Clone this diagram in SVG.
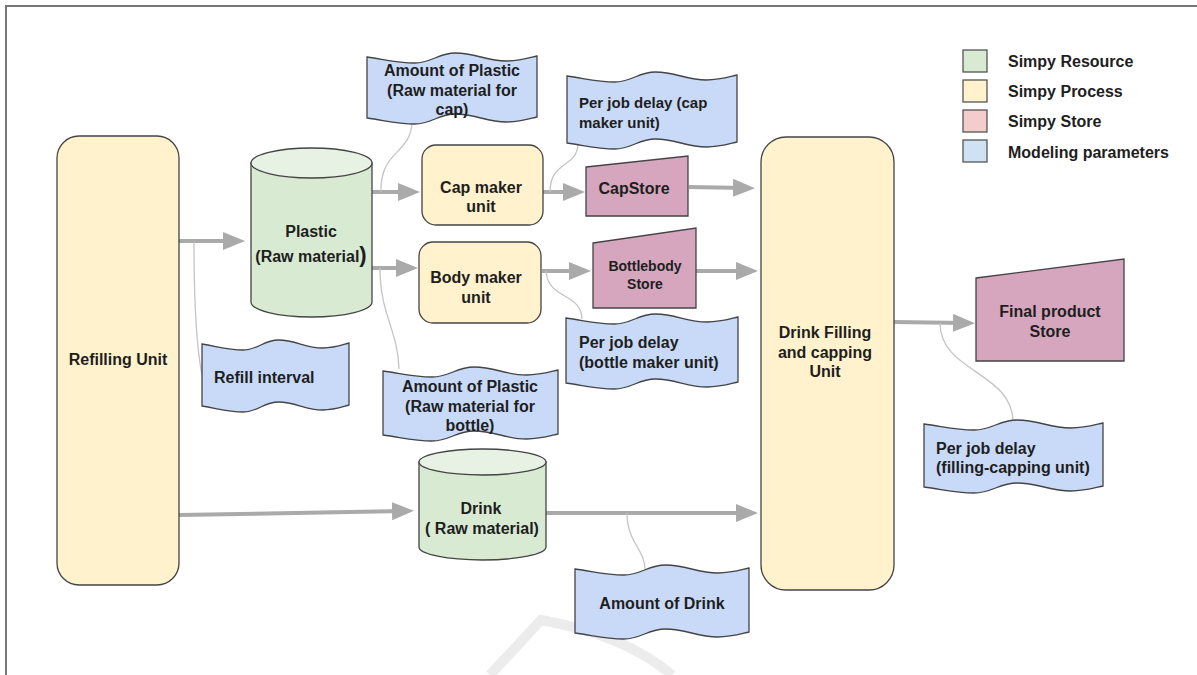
<svg xmlns="http://www.w3.org/2000/svg" width="1197" height="675" viewBox="0 0 1197 675">
<style>
text{font-family:"Liberation Sans",Arial,sans-serif;font-weight:bold;font-size:16px;fill:#1e1e1e}
.c{text-anchor:middle}
.proc{fill:#fff2cc;stroke:#444;stroke-width:1.3}
.res{fill:#d9ead3;stroke:#444;stroke-width:1.3}
.restop{fill:#e8f2e4;stroke:#444;stroke-width:1.3}
.store{fill:#d5a6bd;stroke:#444;stroke-width:1.3}
.param{fill:#c9daf8;stroke:#444;stroke-width:1.3}
.arr{stroke:#aaaaaa;stroke-width:4;fill:none;marker-end:url(#ah)}
.thin{stroke:#c4c4c4;stroke-width:1.3;fill:none}
.sm{font-size:14px}
</style>
<defs>
<marker id="ah" markerUnits="userSpaceOnUse" markerWidth="24" markerHeight="20" refX="12" refY="9" orient="auto">
<path d="M0,0 L22,9 L0,18 Z" fill="#aaaaaa"/>
</marker>
</defs>
<rect width="1197" height="675" fill="#fff"/>
<path d="M490,675 L541,620 Q625,635 672,675" fill="none" stroke="#ececec" stroke-width="10"/>
<path d="M6,675 V6 H1197" fill="none" stroke="#777" stroke-width="2"/>

<g id="connectors">
<path class="arr" d="M179,241 L235,241"/>
<path class="arr" d="M179,515 L404,511"/>
<path class="arr" d="M372,192 L410,192"/>
<path class="arr" d="M372,268 L408,268"/>
<path class="arr" d="M543,192 L575,192"/>
<path class="arr" d="M542,271 L581,271"/>
<path class="arr" d="M689,187 L745,188"/>
<path class="arr" d="M696,271 L748,271"/>
<path class="arr" d="M546,513 L748,513"/>
<path class="arr" d="M894,322 L965,323"/>
<path class="thin" d="M194,242 C194,300 196,345 202,375"/>
<path class="thin" d="M412,123 C410,155 380,150 381,192"/>
<path class="thin" d="M380,268 C380,315 398,330 399,369"/>
<path class="thin" d="M550,192 C550,160 578,168 578,143"/>
<path class="thin" d="M546,271 C548,300 581,292 582,319"/>
<path class="thin" d="M627,513 C627,542 645,550 645,569"/>
<path class="thin" d="M940,323 C940,372 1012,372 1013,421"/>
</g>

<g id="refilling-unit">
<rect class="proc" x="57" y="136" width="122" height="449" rx="22"/>
<text class="c" x="118" y="365">Refilling Unit</text>
</g>

<g id="plastic">
<path class="res" d="M251,163 V302 A60.5,15 0 0 0 372,302 V163 Z"/>
<ellipse class="restop" cx="311.5" cy="163" rx="60.5" ry="15"/>
<text class="c" x="311" y="237">Plastic</text>
<text class="c" x="311" y="262">(Raw material<tspan font-size="22">)</tspan></text>
</g>

<g id="cap-maker">
<rect class="proc" x="422" y="145" width="121" height="80" rx="14"/>
<text class="c" x="481" y="193">Cap maker</text>
<text class="c" x="481" y="212">unit</text>
</g>

<g id="body-maker">
<rect class="proc" x="419" y="242" width="122" height="81" rx="14"/>
<text class="c" x="476" y="283">Body maker</text>
<text class="c" x="476" y="303">unit</text>
</g>

<g id="capstore">
<path class="store" d="M586,167 L688,156 L688,216 L586,216 Z"/>
<text class="c" x="634" y="194">CapStore</text>
</g>

<g id="bottlebody-store">
<path class="store" d="M593,243 L696,228 L696,308 L593,308 Z"/>
<text class="c sm" x="645" y="271">Bottlebody</text>
<text class="c sm" x="645" y="289">Store</text>
</g>

<g id="drink-filling">
<rect class="proc" x="761" y="137" width="133" height="453" rx="25"/>
<text class="c" x="825" y="338">Drink Filling</text>
<text class="c" x="825" y="358">and capping</text>
<text class="c" x="825" y="377">Unit</text>
</g>

<g id="final-store">
<path class="store" d="M976,278 L1124,259 L1124,361 L976,361 Z"/>
<text class="c" x="1050" y="317">Final product</text>
<text class="c" x="1050" y="337">Store</text>
</g>

<g id="drink">
<path class="res" d="M419,462 V547 A63.5,13 0 0 0 546,547 V462 Z"/>
<ellipse class="restop" cx="482.5" cy="462" rx="63.5" ry="13"/>
<text class="c" x="481" y="514">Drink</text>
<text class="c" x="482" y="534">( Raw material)</text>
</g>

<g id="param-plastic-cap">
<path class="param" d="M367,57 C387.4,60 397.6,63 414.6,63 C431.6,63 438.4,53 455.4,53 C475.8,53 486,61 506.4,61 C520,61 528.5,58 537,56 L537,117 C528.5,119 520,122 506.4,122 C486,122 475.8,114 455.4,114 C438.4,114 431.6,124 414.6,124 C397.6,124 387.4,121 367,118 Z"/>
<text class="c" x="452" y="76">Amount of Plastic</text>
<text class="c" x="452" y="96">(Raw material for</text>
<text class="c" x="452" y="115">cap)</text>
</g>

<g id="param-delay-cap">
<path class="param" d="M567,76 C587.4,79 597.6,82 614.6,82 C631.6,82 638.4,72 655.4,72 C675.8,72 686,80 706.4,80 C720,80 728.5,77 737,75 L737,142 C728.5,144 720,147 706.4,147 C686,147 675.8,139 655.4,139 C638.4,139 631.6,149 614.6,149 C597.6,149 587.4,146 567,143 Z"/>
<text x="579" y="108" style="font-size:15px">Per job delay (cap</text>
<text x="579" y="128" style="font-size:15px">maker unit)</text>
</g>

<g id="param-refill">
<path class="param" d="M202,344 C219.6,347 228.5,350 243.2,350 C257.9,350 263.7,340 278.4,340 C296.1,340 304.9,348 322.5,348 C334.3,348 341.7,345 349,343 L349,405 C341.7,407 334.3,410 322.5,410 C304.9,410 296.1,402 278.4,402 C263.7,402 257.9,412 243.2,412 C228.5,412 219.6,409 202,406 Z"/>
<text x="214" y="383">Refill interval</text>
</g>

<g id="param-plastic-bottle">
<path class="param" d="M383,371 C404,374 414.5,377 432,377 C449.5,377 456.5,367 474,367 C495,367 505.5,375 526.5,375 C540.5,375 549.25,372 558,370 L558,434 C549.25,436 540.5,439 526.5,439 C505.5,439 495,431 474,431 C456.5,431 449.5,441 432,441 C414.5,441 404,438 383,435 Z"/>
<text class="c" x="470" y="392">Amount of Plastic</text>
<text class="c" x="470" y="412">(Raw material for</text>
<text class="c" x="470" y="431">bottle)</text>
</g>

<g id="param-delay-bottle">
<path class="param" d="M566,318 C586.6,321 597,324 614.2,324 C631.4,324 638.2,314 655.4,314 C676.1,314 686.4,322 707,322 C720.8,322 729.4,319 738,317 L738,382 C729.4,384 720.8,387 707,387 C686.4,387 676.1,379 655.4,379 C638.2,379 631.4,389 614.2,389 C597,389 586.6,386 566,383 Z"/>
<text x="579" y="348">Per job delay</text>
<text x="579" y="368">(bottle maker unit)</text>
</g>

<g id="param-delay-filling">
<path class="param" d="M924,424 C945.5,427 956.2,430 974.1,430 C992,430 999.2,420 1017.1,420 C1038.6,420 1049.3,428 1070.8,428 C1085.1,428 1094,425 1103,423 L1103,486 C1094,488 1085.1,491 1070.8,491 C1049.3,491 1038.6,483 1017.1,483 C999.2,483 992,493 974.1,493 C956.2,493 945.5,490 924,487 Z"/>
<text x="936" y="454">Per job delay</text>
<text x="936" y="473">(filling-capping unit)</text>
</g>

<g id="param-drink">
<path class="param" d="M575,569 C595.9,572 606.3,575 623.7,575 C641.1,575 648.1,565 665.5,565 C686.4,565 696.8,573 717.7,573 C731.6,573 740.3,570 749,568 L749,632 C740.3,634 731.6,637 717.7,637 C696.8,637 686.4,629 665.5,629 C648.1,629 641.1,639 623.7,639 C606.3,639 595.9,636 575,633 Z"/>
<text class="c" x="662" y="609">Amount of Drink</text>
</g>

<g id="legend">
<rect x="963" y="50" width="24" height="22" fill="#d9ead3" stroke="#555" stroke-width="1.3"/>
<rect x="963" y="80" width="24" height="22" fill="#fff2cc" stroke="#555" stroke-width="1.3"/>
<rect x="963" y="110" width="24" height="22" fill="#f4cccc" stroke="#555" stroke-width="1.3"/>
<rect x="963" y="140" width="24" height="22" fill="#cfe2f3" stroke="#555" stroke-width="1.3"/>
<text x="1008" y="67">Simpy Resource</text>
<text x="1008" y="97">Simpy Process</text>
<text x="1008" y="127">Simpy Store</text>
<text x="1008" y="158">Modeling parameters</text>
</g>
</svg>
